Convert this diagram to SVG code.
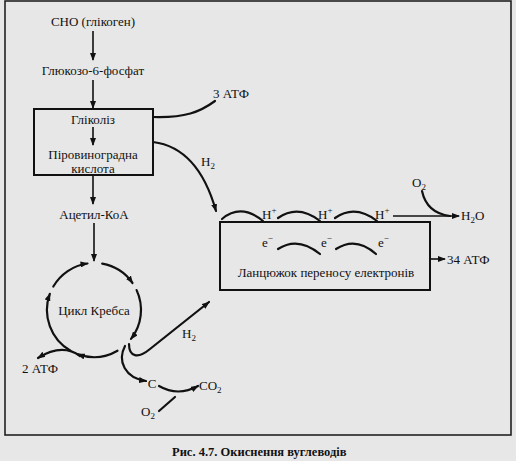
<svg xmlns="http://www.w3.org/2000/svg" width="516" height="461" viewBox="0 0 516 461">
<defs>
<style>
text{font-family:'Liberation Serif','DejaVu Serif','Times New Roman',serif;font-size:13px;fill:#111}
.c{text-anchor:middle}
.box{fill:none;stroke:#111;stroke-width:2}
.ln{fill:none;stroke:#111;stroke-width:1.6}
.th{fill:none;stroke:#111;stroke-width:2.2;stroke-linecap:round}
.sub{font-size:9px}
</style>
<marker id="ah" markerWidth="8" markerHeight="6" refX="7" refY="3" orient="auto" markerUnits="userSpaceOnUse">
<path d="M0,0 L8,3 L0,6 Z" fill="#111"/>
</marker>
</defs>
<rect x="0" y="0" width="516" height="461" fill="#e7e7e7"/>
<rect x="5" y="1" width="506" height="434" fill="none" stroke="#222" stroke-width="1.6"/>

<g id="connectors">
<path class="ln" d="M93,31 L93,60" marker-end="url(#ah)"/>
<path class="ln" d="M93,80 L93,108" marker-end="url(#ah)"/>
<path class="ln" d="M93,127 L93,145" marker-end="url(#ah)"/>
<path class="ln" d="M93,176 L93,204" marker-end="url(#ah)"/>
<path class="ln" d="M94,223 L94,261" marker-end="url(#ah)"/>
<path class="th" d="M153,117 C185,118 200,112 215,101"/>
<path class="th" d="M153,142 C185,146 205,172 216,211" marker-end="url(#ah)"/>
<path class="th" d="M222,219 Q241,203 263,221"/>
<path class="th" d="M278,218 Q298,204 320,221"/>
<path class="th" d="M335,218 Q355,204 377,221"/>
<path class="ln" d="M393,216 L459,216" marker-end="url(#ah)"/>
<path class="th" d="M422,191 C425,205 434,214 450,216"/>
<path class="th" d="M278,249 Q298,236 320,254"/>
<path class="th" d="M336,249 Q356,236 376,254"/>
<path class="ln" d="M430,259 L445,259" marker-end="url(#ah)"/>
<path class="th" d="M53.3,286.5 A47,47 0 0 1 87.5,263.5" marker-end="url(#ah)"/>
<path class="th" d="M102.2,263.7 A47,47 0 0 1 132.5,283" marker-end="url(#ah)"/>
<path class="th" d="M136.6,290.1 A47,47 0 0 1 131,338.9" marker-end="url(#ah)"/>
<path class="th" d="M117.5,350.7 A47,47 0 0 1 77.9,354.2" marker-end="url(#ah)"/>
<path class="th" d="M70.5,350.7 A47,47 0 0 1 49.8,293.9" marker-end="url(#ah)"/>
<path class="th" d="M80,356 Q62,343 38,358" marker-end="url(#ah)"/>
<path class="th" d="M129,344 C129,357 138,359 150,349 L209,302" marker-end="url(#ah)"/>
<path class="th" d="M125,346 C117,361 125,378 146,381" marker-end="url(#ah)"/>
<path class="th" d="M159,386 Q178,397 198,386" marker-end="url(#ah)"/>
<path class="th" d="M159,411 L175,397"/>
</g>

<g font-family="Liberation Serif, DejaVu Serif, serif">
<g id="n-cho"><text class="c" x="93" y="26">СНО (глікоген)</text></g>
<g id="n-g6p"><text class="c" x="93" y="75">Глюкозо-6-фосфат</text></g>
<g id="n-glycolysis">
<rect class="box" x="34" y="109" width="119" height="66"/>
<text class="c" x="93" y="124">Гліколіз</text>
<text class="c" x="93" y="159">Піровиноградна</text>
<text class="c" x="93" y="173">кислота</text>
</g>
<g id="n-3atp"><text x="213" y="98">3 АТФ</text></g>
<g id="n-h2a"><text x="201" y="166">H<tspan class="sub" dy="3">2</tspan></text></g>
<g id="n-acetyl"><text class="c" x="94" y="219">Ацетил-КоА</text></g>
<g id="n-etc">
<rect class="box" x="220" y="222" width="210" height="68"/>
<text x="262" y="219">H<tspan class="sub" dy="-6">+</tspan></text>
<text x="318" y="219">H<tspan class="sub" dy="-6">+</tspan></text>
<text x="375" y="219">H<tspan class="sub" dy="-6">+</tspan></text>
<text x="262" y="247">e<tspan class="sub" dy="-6">−</tspan></text>
<text x="321" y="247">e<tspan class="sub" dy="-6">−</tspan></text>
<text x="378" y="247">e<tspan class="sub" dy="-6">−</tspan></text>
<text class="c" x="326" y="277">Ланцюжок переносу електронів</text>
</g>
<g id="n-o2a"><text x="412" y="187">O<tspan class="sub" dy="3">2</tspan></text></g>
<g id="n-h2o"><text x="461" y="220">H<tspan class="sub" dy="3">2</tspan><tspan dy="-3">O</tspan></text></g>
<g id="n-34atp"><text x="447" y="264">34 АТФ</text></g>
<g id="n-krebs"><text class="c" x="94" y="315">Цикл Кребса</text></g>
<g id="n-h2b"><text x="182" y="338">H<tspan class="sub" dy="3">2</tspan></text></g>
<g id="n-2atp"><text x="22" y="373">2 АТФ</text></g>
<g id="n-c"><text class="c" x="152" y="388">C</text></g>
<g id="n-co2"><text x="199" y="390">CO<tspan class="sub" dy="3">2</tspan></text></g>
<g id="n-o2b"><text x="141" y="416">O<tspan class="sub" dy="3">2</tspan></text></g>
<g id="caption"><text x="172" y="456" style="font-weight:bold;font-size:12.5px">Рис. 4.7. Окиснення вуглеводів</text></g>
</g>
</svg>
